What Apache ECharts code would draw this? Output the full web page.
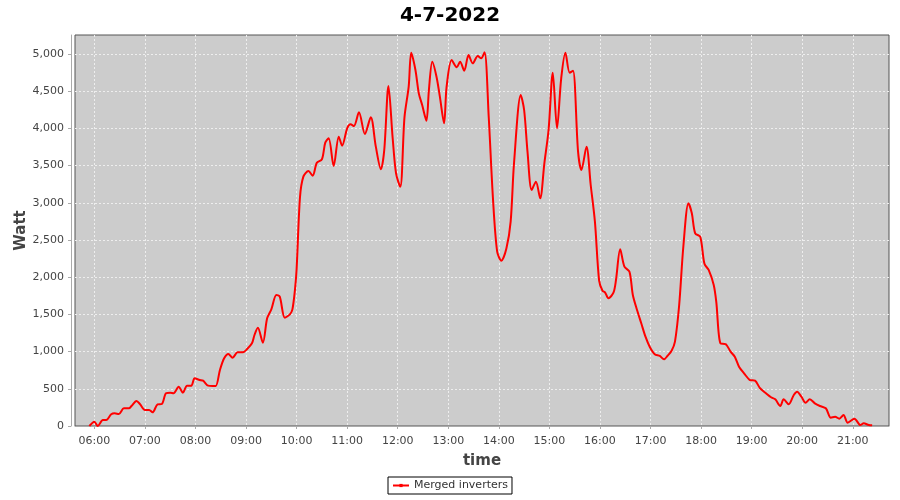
<!DOCTYPE html>
<html>
<head>
<meta charset="utf-8">
<script src="https://cdn.jsdelivr.net/npm/echarts@6/dist/echarts.min.js"></script>
<style>
  html, body { margin: 0; padding: 0; background: #fff; }
  #myChart { width: 900px; height: 500px; }
</style>
</head>
<body>
<div id="myChart"></div>
<script>
// readings of the merged inverters, 4-7-2022
var times = [
  '05:54','06:00','06:04','06:10','06:14','06:20','06:24','06:29','06:35','06:41','06:44','06:50','06:54',
  '07:00','07:05','07:09','07:15','07:20','07:25','07:30','07:34','07:40','07:45','07:50','07:55','07:59',
  '08:05','08:09','08:15','08:20','08:24','08:29','08:34','08:39','08:44','08:50','08:56',
  '09:01','09:07','09:10','09:14','09:20','09:25','09:30','09:36','09:40','09:46','09:52','09:55','09:58',
  '10:00','10:04','10:08','10:14','10:19','10:24','10:30','10:34','10:38','10:44','10:50','10:54',
  '11:00','11:04','11:08','11:14','11:21','11:28','11:34','11:40','11:44','11:49','11:54','11:58',
  '12:03','12:08','12:13','12:16','12:21','12:25','12:29','12:34','12:37','12:41','12:46','12:50','12:55','12:58',
  '13:04','13:10','13:14','13:19','13:24','13:29','13:35','13:39','13:43','13:48','13:53','13:58',
  '14:03','14:09','14:14','14:18','14:26','14:30','14:34','14:39','14:44','14:49','14:54','14:59',
  '15:04','15:09','15:14','15:19','15:24','15:28','15:34','15:38','15:44','15:49','15:54','15:59',
  '16:03','16:06','16:10','16:16','16:19','16:24','16:29','16:35','16:39','16:44','16:49','16:54','16:59',
  '17:05','17:11','17:16','17:20','17:25','17:29','17:34','17:39','17:45','17:49','17:53','17:59',
  '18:04','18:09','18:15','18:18','18:23','18:29','18:35','18:40','18:45','18:51','18:58',
  '19:04','19:10','19:17','19:23','19:28','19:34','19:38','19:44','19:50','19:54','19:59',
  '20:04','20:09','20:15','20:21','20:28','20:34','20:39','20:44','20:49','20:54',
  '21:02','21:09','21:13','21:19','21:23'
];
var watts = [
  0,58,0,80,80,157,170,160,237,237,268,336,296,
  215,215,184,290,296,440,448,440,528,448,542,542,641,
  618,609,542,537,537,753,910,968,918,990,990,
  1031,1111,1223,1321,1120,1447,1568,1760,1738,1456,1501,1568,1828,
  2110,3074,3351,3427,3364,3539,3584,3808,3867,3494,3889,3767,
  4001,4055,4032,4216,3925,4149,3754,3450,3709,4570,3867,3396,
  3216,4149,4560,5017,4785,4471,4314,4103,4516,4896,4695,4426,4068,4560,
  4919,4821,4896,4775,4986,4874,4973,4942,5022,4149,3060,2343,
  2222,2388,2746,3531,4449,4247,3687,3172,3284,3060,3531,3978,
  4749,4001,4673,5017,4749,4775,3687,3441,3754,3239,2746,1953,
  1818,1797,1716,1792,1962,2375,2141,2074,1761,1559,1380,1200,1066,
  964,941,896,941,1012,1133,1626,2419,2993,2859,2590,2544,
  2180,2097,1895,1671,1110,1102,999,931,797,708,618,
  609,507,440,386,359,269,359,292,417,461,394,
  313,359,305,269,238,112,125,98,148,44,
  98,13,36,13,9
];
var hourTicks = [360,420,480,540,600,660,720,780,840,900,960,1020,1080,1140,1200,1260];
var wattTicks = [0,500,1000,1500,2000,2500,3000,3500,4000,4500,5000];

function toMin(s) {
  var p = s.split(':');
  return parseInt(p[0]) * 60 + parseInt(p[1]);
}
function pad(n) { return (n < 10 ? '0' : '') + n; }

var lineData = [];
for (var i = 0; i < times.length; i++) {
  lineData.push([toMin(times[i]), watts[i]]);
}

var font = 'DejaVu Sans';
var myChart = echarts.init(document.getElementById('myChart'), null, { renderer: 'canvas' });
myChart.setOption({
  animation: false,
  backgroundColor: '#ffffff',
  title: {
    text: '4-7-2022',
    left: 'center',
    top: 1,
    textStyle: { fontFamily: font, fontSize: 20, fontWeight: 'bold', color: '#000' }
  },
  legend: {
    data: ['Merged inverters'],
    top: 477,
    left: 'center',
    borderColor: '#000',
    borderWidth: 1,
    borderRadius: 0,
    padding: [3, 4],
    itemWidth: 16,
    itemHeight: 4,
    itemGap: 4,
    textStyle: { fontFamily: font, fontSize: 11, color: '#333' }
  },
  grid: {
    left: 75, right: 11, top: 35, bottom: 74,
    outerBoundsMode: 'none',
    show: true,
    backgroundColor: '#cccccc',
    borderColor: '#555555',
    borderWidth: 1
  },
  xAxis: {
    type: 'value',
    min: 337,
    max: 1303,
    offset: 4,
    name: 'time',
    nameLocation: 'middle',
    nameGap: 24,
    nameMoveOverlap: false,
    nameTextStyle: { fontFamily: font, fontSize: 15, fontWeight: 'bold', color: '#444' },
    axisLine: { show: true, lineStyle: { color: '#aaaaaa' } },
    axisTick: { show: true, length: 3, customValues: hourTicks, lineStyle: { color: '#aaaaaa' } },
    axisLabel: {
      customValues: hourTicks,
      margin: 6,
      fontFamily: font, fontSize: 11, color: '#444',
      formatter: function (v) { return pad(Math.floor(v / 60)) + ':' + pad(v % 60); }
    },
    splitLine: { show: true, lineStyle: { color: '#eeeeee', type: [2, 2], width: 1 } }
  },
  yAxis: {
    type: 'value',
    min: 0,
    max: 5255,
    offset: 4,
    name: 'Watt',
    nameLocation: 'middle',
    nameGap: 42,
    nameMoveOverlap: false,
    nameTextStyle: { fontFamily: font, fontSize: 15, fontWeight: 'bold', color: '#444' },
    axisLine: { show: true, lineStyle: { color: '#aaaaaa' } },
    axisTick: { show: true, length: 3, customValues: wattTicks, lineStyle: { color: '#aaaaaa' } },
    axisLabel: {
      customValues: wattTicks,
      margin: 7,
      fontFamily: font, fontSize: 11, color: '#444',
      formatter: function (v) { return String(v).replace(/\B(?=(\d{3})+(?!\d))/g, ','); }
    },
    splitLine: { show: true, lineStyle: { color: '#eeeeee', type: [2, 2], width: 1 } }
  },
  series: [
    {
      name: 'Merged inverters',
      type: 'line',
      data: lineData,
      smooth: 0.3,
      showSymbol: false,
      symbol: 'rect',
      symbolSize: 4,
      lineStyle: { color: '#ff0000', width: 2 },
      itemStyle: { color: '#ff0000' }
    }
  ]
});
</script>
</body>
</html>
